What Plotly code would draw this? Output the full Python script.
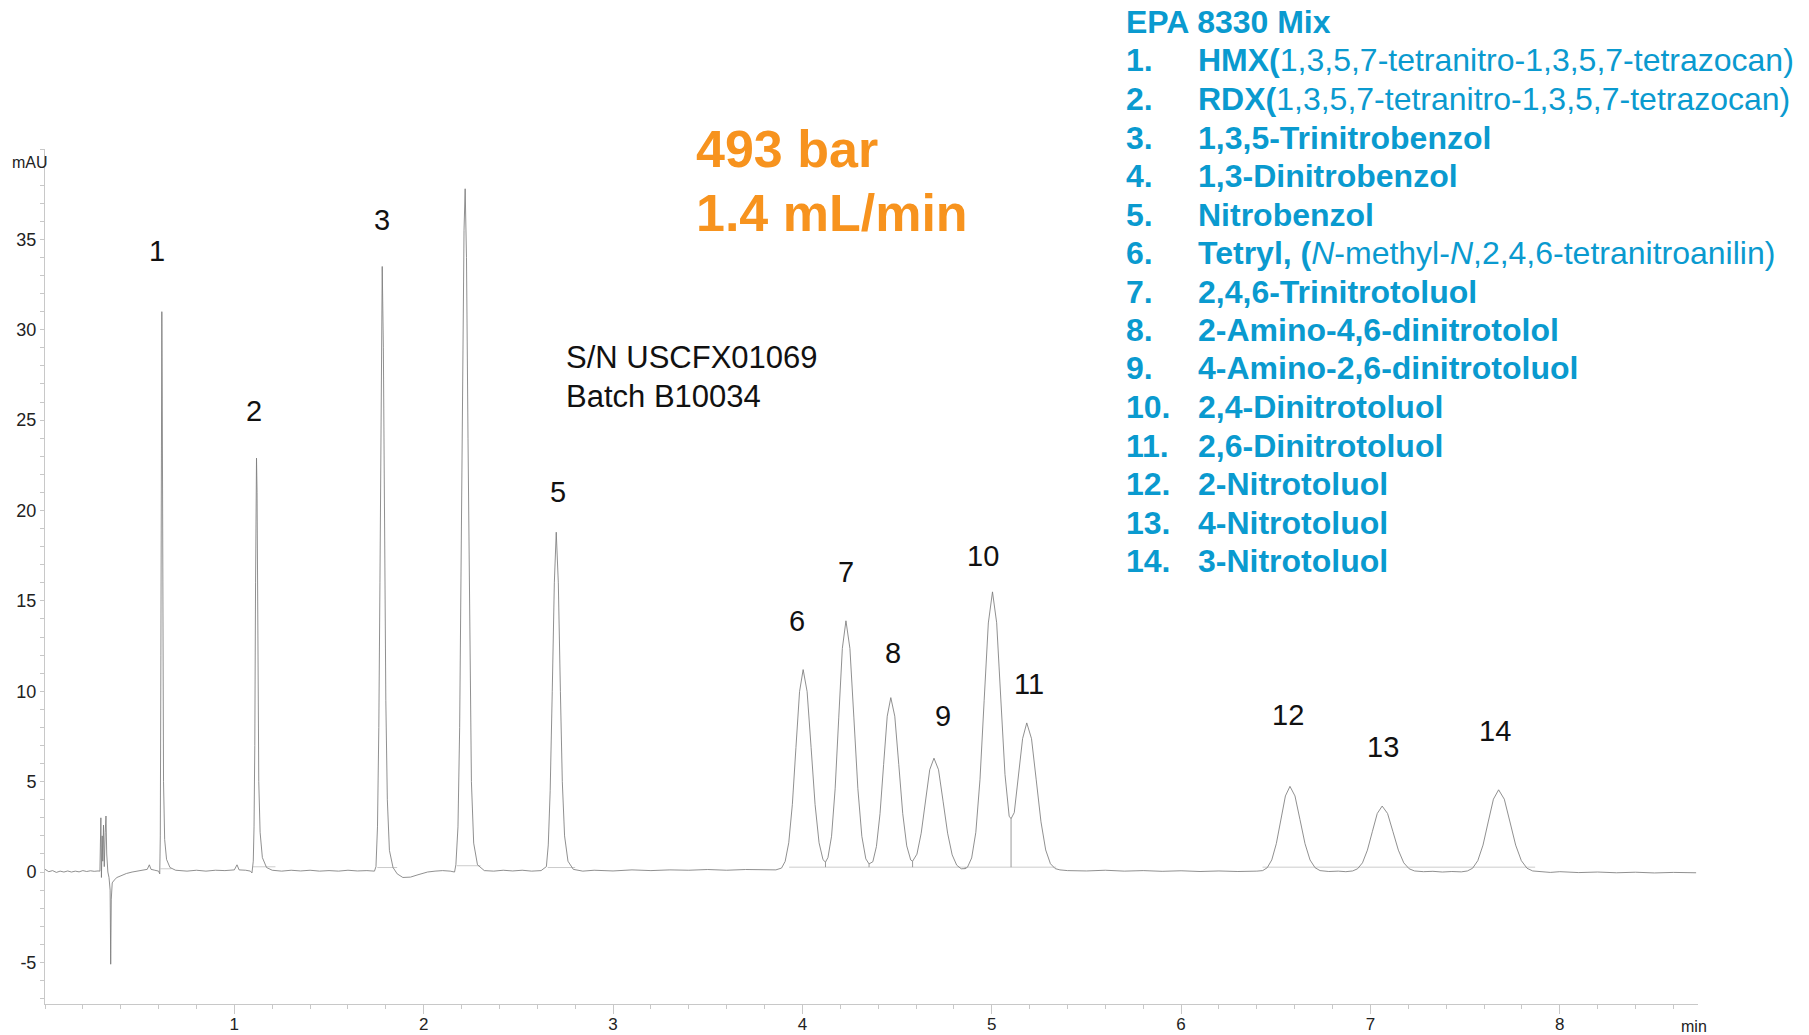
import plotly.graph_objects as go

# ---------------- data ----------------
time_min = [
    0.00, 0.02, 0.04, 0.06, 0.08, 0.10, 0.12, 0.14, 0.16, 0.18, 0.20, 0.22, 0.24, 0.26, 0.28, 0.290,
    0.295, 0.298, 0.302, 0.305, 0.309, 0.313, 0.318, 0.322, 0.326, 0.332, 0.338, 0.344, 0.347, 0.350,
    0.355, 0.365, 0.38, 0.40, 0.43, 0.46, 0.49, 0.52, 0.54, 0.551, 0.56, 0.58, 0.60, 0.606,
    0.609, 0.612, 0.615, 0.617, 0.619, 0.622, 0.626, 0.632, 0.642, 0.660, 0.69,
    0.75, 0.80, 0.85, 0.90, 0.95, 1.00, 1.014, 1.025, 1.06, 1.085, 1.093,
    1.100, 1.104, 1.108, 1.112, 1.115, 1.117, 1.120, 1.124, 1.129, 1.136, 1.148, 1.170, 1.20,
    1.25, 1.30, 1.35, 1.40, 1.45, 1.50, 1.55, 1.60, 1.65, 1.70, 1.74,
    1.748, 1.756, 1.763, 1.769, 1.775, 1.781, 1.787, 1.793, 1.800, 1.808, 1.819, 1.838, 1.86,
    1.89, 1.93, 1.97, 2.02, 2.06, 2.10, 2.14, 2.163,
    2.170, 2.181, 2.190, 2.198, 2.206, 2.213, 2.219, 2.226, 2.234, 2.243, 2.252, 2.264, 2.284, 2.32,
    2.37, 2.42, 2.47, 2.52, 2.57, 2.62,
    2.648, 2.658, 2.668, 2.679, 2.690, 2.700, 2.711, 2.722, 2.732, 2.744, 2.762, 2.790, 2.84,
    2.90, 3.0, 3.1, 3.2, 3.3, 3.4, 3.5, 3.6, 3.7, 3.8, 3.86,
    3.890, 3.909, 3.928, 3.947, 3.966, 3.985, 4.004, 4.025, 4.046, 4.067, 4.088, 4.109, 4.122,
    4.135, 4.154, 4.173, 4.192, 4.211, 4.230, 4.251, 4.272, 4.293, 4.314, 4.335, 4.352,
    4.372, 4.391, 4.410, 4.429, 4.448, 4.467, 4.488, 4.509, 4.530, 4.551, 4.572, 4.582,
    4.605, 4.6275, 4.650, 4.6725, 4.695, 4.719, 4.743, 4.767, 4.791, 4.815, 4.839, 4.86,
    4.872, 4.894, 4.916, 4.938, 4.960, 4.982, 5.004, 5.026, 5.048, 5.070, 5.092, 5.102,
    5.119, 5.141, 5.163, 5.185, 5.210, 5.235, 5.260, 5.285, 5.310, 5.335, 5.36, 5.40,
    5.5, 5.6, 5.7, 5.8, 5.9, 6.0, 6.1, 6.2, 6.3, 6.4,
    6.431, 6.455, 6.479, 6.503, 6.527, 6.551, 6.575, 6.6015, 6.628, 6.6545, 6.681, 6.7075, 6.734, 6.78,
    6.83, 6.87,
    6.906, 6.932, 6.958, 6.984, 7.010, 7.036, 7.062, 7.0905, 7.119, 7.1475, 7.176, 7.2045, 7.233, 7.28,
    7.33, 7.38, 7.43, 7.48,
    7.512, 7.5395, 7.567, 7.5945, 7.622, 7.6495, 7.677, 7.707, 7.737, 7.767, 7.797, 7.827, 7.857, 7.90,
    7.95, 8.0, 8.1, 8.2, 8.3, 8.4, 8.5, 8.6, 8.72,
]
signal_mAU = [
    0.15, 0.02, 0.08, -0.02, 0.05, 0.0, 0.06, 0.0, 0.05, 0.01, 0.08, 0.03, 0.07, 0.04, 0.06, 0.05,
    3.0, -0.3, 2.0, 0.6, 2.6, 0.3, 2.2, 3.1, 1.0, 0.0, -0.3, -1.0, -5.1, -1.5,
    -0.6, -0.45, -0.3, -0.2, -0.08, 0.0, 0.06, 0.1, 0.15, 0.4, 0.15, 0.1, 0.05, -0.1,
    2.0, 12.0, 27.0, 31.0, 27.0, 14.0, 5.0, 1.8, 0.7, 0.25, 0.1,
    0.05, 0.1, 0.05, 0.1, 0.08, 0.12, 0.4, 0.12, 0.1, 0.05, -0.05,
    0.6, 2.5, 7.0, 16.0, 21.5, 22.9, 21.0, 13.0, 5.0, 2.2, 0.8, 0.25, 0.1,
    0.05, 0.1, 0.06, 0.1, 0.05, 0.08, 0.05, 0.1, 0.06, 0.08, 0.05,
    0.3, 2.5, 8.0, 16.0, 27.0, 33.5, 29.0, 19.0, 9.5, 4.0, 1.2, 0.25, -0.1,
    -0.3, -0.28, -0.15, 0.0, 0.05, 0.08, 0.05, 0.0,
    0.4, 2.5, 8.0, 17.0, 28.0, 35.5, 37.8, 34.0, 24.0, 12.0, 5.0, 1.6, 0.4, 0.08,
    0.05, 0.1, 0.06, 0.1, 0.05, 0.08,
    0.3, 1.5, 4.5, 10.0, 16.0, 18.8, 16.0, 10.0, 5.0, 2.0, 0.6, 0.15, 0.05,
    0.1, 0.06, 0.12, 0.08, 0.12, 0.1, 0.14, 0.1, 0.14, 0.12, 0.12,
    0.22, 0.59, 1.62, 3.74, 6.89, 9.98, 11.2, 9.98, 6.89, 3.74, 1.62, 0.68, 0.55,
    0.80, 1.98, 4.61, 8.53, 12.37, 13.9, 12.37, 8.53, 4.61, 1.98, 0.73, 0.45,
    0.57, 1.41, 3.23, 5.95, 8.62, 9.65, 8.62, 5.95, 3.23, 1.45, 0.67, 0.60,
    0.99, 2.15, 3.92, 5.66, 6.3, 5.66, 3.92, 2.15, 0.95, 0.38, 0.18, 0.19,
    0.27, 0.78, 2.20, 5.13, 9.50, 13.78, 15.5, 13.79, 9.57, 5.40, 3.09, 2.95,
    3.29, 5.22, 7.38, 8.25, 7.38, 5.10, 2.78, 1.22, 0.46, 0.19, 0.12, 0.08,
    0.06, 0.1, 0.05, 0.08, 0.04, 0.07, 0.03, 0.06, 0.03, 0.05,
    0.08, 0.24, 0.67, 1.57, 2.90, 4.21, 4.74, 4.21, 2.90, 1.57, 0.67, 0.24, 0.08, 0.03,
    0.05, 0.02,
    0.06, 0.18, 0.51, 1.21, 2.23, 3.24, 3.65, 3.24, 2.23, 1.21, 0.51, 0.18, 0.06, 0.02,
    0.04, 0.0, 0.03, 0.01,
    0.06, 0.21, 0.63, 1.49, 2.77, 4.03, 4.55, 4.03, 2.77, 1.49, 0.63, 0.21, 0.06, 0.01,
    -0.02, 0.02, -0.03, 0.0, -0.04, -0.01, -0.05, -0.02, -0.04,
]

# integration baselines (start, end, level)
base_start = [0.610, 1.099, 1.755, 2.175, 2.655, 3.93, 6.43]
base_end = [0.668, 1.217, 1.860, 2.300, 2.800, 5.34, 7.87]
base_level = [0.18, 0.29, 0.25, 0.35, 0.25, 0.27, 0.27]

# valley drop lines inside the 6-11 cluster
valley_time = [4.122, 4.352, 4.582, 4.86, 5.102]
valley_value = [0.55, 0.45, 0.60, 0.19, 2.95]
drop_level = 0.27

# peak labels
peak_labels = ["1", "2", "3", "4", "5", "6", "7", "8", "9", "10", "11", "12", "13", "14"]
label_time = [0.593, 1.105, 1.781, 2.201, 2.707, 3.974, 4.23, 4.479, 4.741, 4.955, 5.198, 6.562, 7.068, 7.659]
label_mAU = [34.35, 25.5, 36.1, 40.5, 21.0, 13.9, 16.6, 12.1, 8.63, 17.5, 10.4, 8.69, 6.9, 7.8]

# compound list
legend_title = "EPA 8330 Mix"
legend_numbers = ["1.", "2.", "3.", "4.", "5.", "6.", "7.", "8.", "9.", "10.", "11.", "12.", "13.", "14."]
legend_names = [
    "<b>HMX(</b>1,3,5,7-tetranitro-1,3,5,7-tetrazocan)",
    "<b>RDX(</b>1,3,5,7-tetranitro-1,3,5,7-tetrazocan)",
    "<b>1,3,5-Trinitrobenzol</b>",
    "<b>1,3-Dinitrobenzol</b>",
    "<b>Nitrobenzol</b>",
    "<b>Tetryl, (</b><i>N</i>-methyl-<i>N</i>,2,4,6-tetranitroanilin)",
    "<b>2,4,6-Trinitrotoluol</b>",
    "<b>2-Amino-4,6-dinitrotolol</b>",
    "<b>4-Amino-2,6-dinitrotoluol</b>",
    "<b>2,4-Dinitrotoluol</b>",
    "<b>2,6-Dinitrotoluol</b>",
    "<b>2-Nitrotoluol</b>",
    "<b>4-Nitrotoluol</b>",
    "<b>3-Nitrotoluol</b>",
]

x_tick_vals = [1, 2, 3, 4, 5, 6, 7, 8]
y_tick_vals = [-5, 0, 5, 10, 15, 20, 25, 30, 35]

# ---------------- layout geometry (pixels) ----------------
W, H = 1809, 1035
PX0, PX1 = 45, 1698
PY0, PY1 = 149, 1004


def px(xp):
    return (xp - PX0) / (PX1 - PX0)


def py(yp):
    return (PY1 - yp) / (PY1 - PY0)


FONT = "Liberation Sans, Arial, Helvetica, sans-serif"
BLUE = "#0A9ACF"
ORANGE = "#F7931E"
AXIS = "#c8c8c8"

fig = go.Figure()

# integration baselines
for s, e, lv in zip(base_start, base_end, base_level):
    fig.add_trace(go.Scatter(x=[s, e], y=[lv, lv], mode="lines",
                             line=dict(color="#cccccc", width=1), hoverinfo="skip", showlegend=False))
for vt, vv in zip(valley_time, valley_value):
    fig.add_trace(go.Scatter(x=[vt, vt], y=[drop_level, vv], mode="lines",
                             line=dict(color="#9a9a9a", width=1), hoverinfo="skip", showlegend=False))

fig.add_trace(go.Scatter(x=time_min, y=signal_mAU, mode="lines",
                         line=dict(color="#7c7c7c", width=0.85), showlegend=False))

ann = []
for lab, t, v in zip(peak_labels, label_time, label_mAU):
    ann.append(dict(x=t, y=v, xref="x", yref="y", text=lab, showarrow=False,
                    xanchor="center", yanchor="middle", font=dict(family=FONT, size=29, color="#111111")))

ann.append(dict(x=px(694), y=py(149), xref="paper", yref="paper", text="<b>493 bar</b>", showarrow=False,
                xanchor="left", yanchor="middle", font=dict(family=FONT, size=52, color=ORANGE)))
ann.append(dict(x=px(694), y=py(213), xref="paper", yref="paper", text="<b>1.4 mL/min</b>", showarrow=False,
                xanchor="left", yanchor="middle", font=dict(family=FONT, size=52, color=ORANGE)))
ann.append(dict(x=px(564), y=py(357), xref="paper", yref="paper", text="S/N USCFX01069", showarrow=False,
                xanchor="left", yanchor="middle", font=dict(family=FONT, size=31, color="#111111")))
ann.append(dict(x=px(564), y=py(396), xref="paper", yref="paper", text="Batch B10034", showarrow=False,
                xanchor="left", yanchor="middle", font=dict(family=FONT, size=31, color="#111111")))

LEG_Y0, LEG_DY = 22, 38.5
ann.append(dict(x=px(1124), y=py(LEG_Y0), xref="paper", yref="paper", text="<b>" + legend_title + "</b>",
                showarrow=False, xanchor="left", yanchor="middle", font=dict(family=FONT, size=32, color=BLUE)))
for i, (num, name) in enumerate(zip(legend_numbers, legend_names)):
    yy = py(LEG_Y0 + LEG_DY * (i + 1))
    ann.append(dict(x=px(1124), y=yy, xref="paper", yref="paper", text="<b>" + num + "</b>",
                    showarrow=False, xanchor="left", yanchor="middle", font=dict(family=FONT, size=32, color=BLUE)))
    ann.append(dict(x=px(1196), y=yy, xref="paper", yref="paper", text=name,
                    showarrow=False, xanchor="left", yanchor="middle", font=dict(family=FONT, size=32, color=BLUE)))

ann.append(dict(x=px(50), y=py(163), xref="paper", yref="paper", text="mAU", showarrow=False,
                xanchor="right", yanchor="middle", font=dict(family=FONT, size=16, color="#222222")))
ann.append(dict(x=px(1694), y=py(1026), xref="paper", yref="paper", text="min", showarrow=False,
                xanchor="center", yanchor="middle", font=dict(family=FONT, size=16, color="#222222")))

fig.update_layout(
    width=W, height=H, autosize=False,
    margin=dict(l=PX0, r=W - PX1, t=PY0, b=H - PY1, pad=0, autoexpand=False),
    paper_bgcolor="white", plot_bgcolor="white",
    showlegend=False,
    annotations=ann,
    font=dict(family=FONT, color="#222222"),
)
fig.update_xaxes(range=[0, 8.73], automargin=False, showgrid=False, zeroline=False, showline=True,
                 linecolor=AXIS, linewidth=1,
                 tickmode="array", tickvals=x_tick_vals, ticks="outside", ticklen=9, tickcolor=AXIS,
                 ticklabelstandoff=-4,
                 tickfont=dict(family=FONT, size=17, color="#222222"),
                 minor=dict(dtick=0.2, tick0=0, ticks="outside", ticklen=4, tickcolor=AXIS, showgrid=False))
fig.update_yaxes(range=[-7.3, 40.0], automargin=False, showgrid=False, zeroline=False, showline=True,
                 linecolor=AXIS, linewidth=1, tickformat="d",
                 tickmode="array", tickvals=y_tick_vals, ticktext=[str(v) for v in y_tick_vals],
                 ticks="outside", ticklen=4, tickcolor=AXIS,
                 tickfont=dict(family=FONT, size=18, color="#222222"),
                 minor=dict(dtick=1, tick0=0, ticks="outside", ticklen=4, tickcolor=AXIS, showgrid=False))

fig.write_html("out.html")
